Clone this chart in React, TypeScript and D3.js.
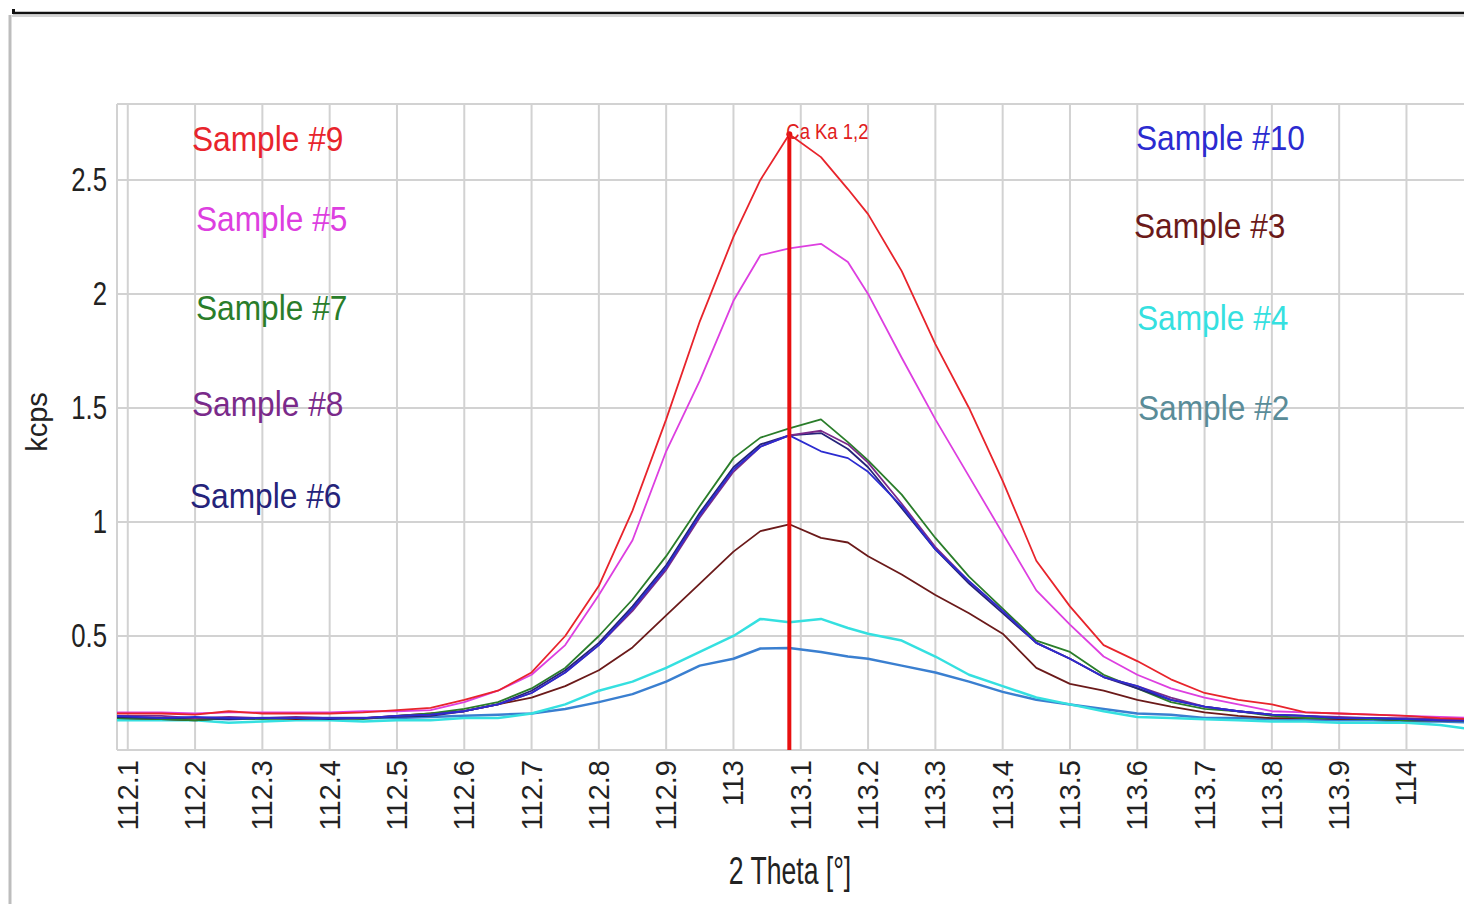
import React, { useEffect, useRef } from "react";
import * as d3 from "d3";

const W = 1464, H = 904;

// 2 Theta positions shared by all scans
const theta = [112.08, 112.15, 112.2, 112.25, 112.3, 112.35, 112.4, 112.45, 112.5, 112.55,
  112.6, 112.65, 112.7, 112.75, 112.8, 112.85, 112.9, 112.95, 113.0, 113.04,
  113.083, 113.13, 113.17, 113.2, 113.25, 113.3, 113.35, 113.4, 113.45, 113.5,
  113.55, 113.6, 113.65, 113.7, 113.75, 113.8, 113.85, 113.9, 113.95, 114.0,
  114.05, 114.1];

const sample9 = [0.16, 0.16, 0.155, 0.17, 0.16, 0.16, 0.16, 0.165, 0.175, 0.185,
  0.22, 0.26, 0.34, 0.50, 0.72, 1.05, 1.45, 1.88, 2.25, 2.50,
  2.70, 2.60, 2.46, 2.35, 2.10, 1.78, 1.50, 1.18, 0.83, 0.63,
  0.46, 0.39, 0.31, 0.25, 0.22, 0.20, 0.165, 0.16, 0.155, 0.15,
  0.14, 0.135];
const sample5 = [0.165, 0.165, 0.16, 0.165, 0.165, 0.165, 0.165, 0.17, 0.17, 0.175,
  0.21, 0.26, 0.33, 0.46, 0.68, 0.92, 1.31, 1.62, 1.97, 2.17,
  2.20, 2.22, 2.14, 2.00, 1.72, 1.45, 1.20, 0.95, 0.70, 0.55,
  0.41, 0.33, 0.27, 0.23, 0.20, 0.17, 0.165, 0.16, 0.155, 0.15,
  0.145, 0.14];
const sample7 = [0.14, 0.135, 0.13, 0.14, 0.135, 0.14, 0.14, 0.135, 0.15, 0.16,
  0.18, 0.21, 0.27, 0.36, 0.50, 0.66, 0.85, 1.07, 1.28, 1.37,
  1.41, 1.45, 1.35, 1.27, 1.12, 0.93, 0.76, 0.62, 0.48, 0.43,
  0.33, 0.27, 0.21, 0.18, 0.17, 0.15, 0.14, 0.14, 0.135, 0.13,
  0.13, 0.13];
const sample8 = [0.15, 0.15, 0.14, 0.145, 0.14, 0.145, 0.14, 0.14, 0.15, 0.155,
  0.17, 0.20, 0.25, 0.34, 0.46, 0.61, 0.79, 1.02, 1.22, 1.33,
  1.38, 1.40, 1.34, 1.26, 1.08, 0.89, 0.74, 0.61, 0.47, 0.40,
  0.32, 0.28, 0.23, 0.19, 0.17, 0.155, 0.15, 0.145, 0.14, 0.14,
  0.135, 0.13];
const sample6 = [0.145, 0.14, 0.14, 0.135, 0.14, 0.14, 0.135, 0.14, 0.145, 0.15,
  0.17, 0.20, 0.26, 0.35, 0.47, 0.63, 0.81, 1.04, 1.24, 1.34,
  1.38, 1.39, 1.32, 1.24, 1.06, 0.88, 0.73, 0.60, 0.47, 0.40,
  0.32, 0.27, 0.22, 0.19, 0.17, 0.155, 0.15, 0.14, 0.14, 0.135,
  0.13, 0.13];
const sample10 = [0.15, 0.14, 0.145, 0.14, 0.14, 0.14, 0.14, 0.14, 0.15, 0.155,
  0.17, 0.20, 0.25, 0.34, 0.46, 0.62, 0.80, 1.03, 1.23, 1.33,
  1.38, 1.31, 1.28, 1.22, 1.07, 0.88, 0.74, 0.61, 0.47, 0.40,
  0.32, 0.28, 0.22, 0.19, 0.17, 0.155, 0.15, 0.14, 0.14, 0.135,
  0.13, 0.13];
const sample3 = [0.14, 0.135, 0.13, 0.14, 0.14, 0.135, 0.14, 0.14, 0.15, 0.16,
  0.17, 0.20, 0.23, 0.28, 0.35, 0.45, 0.59, 0.73, 0.87, 0.96,
  0.99, 0.93, 0.91, 0.85, 0.77, 0.68, 0.60, 0.51, 0.36, 0.29,
  0.26, 0.22, 0.19, 0.165, 0.15, 0.14, 0.14, 0.135, 0.135, 0.13,
  0.13, 0.13];
const sample4 = [0.13, 0.13, 0.13, 0.12, 0.125, 0.13, 0.13, 0.125, 0.13, 0.13,
  0.14, 0.14, 0.16, 0.20, 0.26, 0.30, 0.36, 0.43, 0.50, 0.575,
  0.56, 0.575, 0.535, 0.51, 0.48, 0.41, 0.33, 0.28, 0.23, 0.20,
  0.17, 0.145, 0.14, 0.135, 0.13, 0.125, 0.125, 0.12, 0.12, 0.12,
  0.11, 0.09];
const sample2 = [0.14, 0.14, 0.14, 0.135, 0.14, 0.14, 0.14, 0.14, 0.14, 0.145,
  0.15, 0.155, 0.16, 0.18, 0.21, 0.245, 0.30, 0.37, 0.40, 0.445,
  0.447, 0.43, 0.41, 0.40, 0.37, 0.34, 0.30, 0.255, 0.22, 0.20,
  0.18, 0.16, 0.155, 0.14, 0.14, 0.135, 0.13, 0.13, 0.13, 0.125,
  0.125, 0.12];

// drawing order, bottom first
const series = [
  { name: "Sample #2", values: sample2, color: "#3a7fd0", width: 2.5 },
  { name: "Sample #4", values: sample4, color: "#35e0e0", width: 2.5 },
  { name: "Sample #3", values: sample3, color: "#6b1a1a", width: 1.8 },
  { name: "Sample #7", values: sample7, color: "#2a7d2a", width: 1.8 },
  { name: "Sample #6", values: sample6, color: "#25237a", width: 1.8 },
  { name: "Sample #8", values: sample8, color: "#7a2a8a", width: 1.8 },
  { name: "Sample #10", values: sample10, color: "#2b2bd0", width: 1.8 },
  { name: "Sample #5", values: sample5, color: "#dd3fe0", width: 1.8 },
  { name: "Sample #9", values: sample9, color: "#e8242c", width: 1.8 },
];

// legend labels: [text, colour, x, baseline]
const labels: [string, string, number, number][] = [
  ["Sample #9", "#e8242c", 192, 151],
  ["Sample #5", "#dd3fe0", 196, 231],
  ["Sample #7", "#2a7d2a", 196, 320],
  ["Sample #8", "#7a2a8a", 192, 416],
  ["Sample #6", "#25237a", 190, 508],
  ["Sample #10", "#2b2bd0", 1136, 150],
  ["Sample #3", "#6b1a1a", 1134, 238],
  ["Sample #4", "#35e0e0", 1137, 330],
  ["Sample #2", "#5a8c98", 1138, 420],
];

const xTicks = d3.range(1121, 1141).map(d => d / 10);
const yTicks = [0.5, 1, 1.5, 2, 2.5];
const peakPos = 113.083, peakTop = 2.70;

export default function App() {
  const ref = useRef<SVGSVGElement>(null);

  useEffect(() => {
    const svg = d3.select(ref.current);
    svg.selectAll("*").remove();

    const left = 117, top = 104, bottom = 750;
    const x = d3.scaleLinear().domain([112.084, 114.1]).range([left, left + 2.016 * 673]);
    const y = d3.scaleLinear().domain([0, 2.833]).range([bottom, top]);
    const font = "'Liberation Sans', Arial, sans-serif";

    svg.append("rect").attr("width", W).attr("height", H).attr("fill", "#fff");

    // outer frame
    svg.append("line").attr("x1", 12).attr("x2", W).attr("y1", 16).attr("y2", 16)
      .attr("stroke", "#d4d4d4").attr("stroke-width", 2);
    svg.append("line").attr("x1", 13).attr("x2", W).attr("y1", 13).attr("y2", 13)
      .attr("stroke", "#111").attr("stroke-width", 2.5);
    svg.append("rect").attr("x", 12).attr("y", 9).attr("width", 3).attr("height", 5).attr("fill", "#111");
    svg.append("line").attr("x1", 10).attr("x2", 10).attr("y1", 15).attr("y2", H)
      .attr("stroke", "#bdbdbd").attr("stroke-width", 3);

    // grid
    const grid = svg.append("g").attr("stroke", "#d2d2d2").attr("stroke-width", 2);
    grid.selectAll("line.v").data(xTicks).join("line")
      .attr("x1", d => x(d)).attr("x2", d => x(d)).attr("y1", top).attr("y2", bottom);
    grid.selectAll("line.h").data(yTicks).join("line").attr("class", "h")
      .attr("x1", left).attr("x2", W).attr("y1", d => y(d)).attr("y2", d => y(d));
    grid.append("line").attr("x1", left).attr("x2", W).attr("y1", top).attr("y2", top);
    grid.append("line").attr("x1", left).attr("x2", W).attr("y1", bottom).attr("y2", bottom);
    grid.append("line").attr("x1", left).attr("x2", left).attr("y1", top).attr("y2", bottom);

    // y tick labels
    svg.append("g").selectAll("text").data(yTicks).join("text")
      .attr("transform", d => `translate(107,${y(d) + 11}) scale(0.78,1)`)
      .attr("text-anchor", "end").attr("font-family", font).attr("font-size", 33)
      .attr("fill", "#222").text(d => String(d));

    // x tick labels
    svg.append("g").selectAll("text").data(xTicks).join("text")
      .attr("transform", d => `translate(${x(d) + 10},760) rotate(-90)`)
      .attr("text-anchor", "end").attr("font-family", font).attr("font-size", 29)
      .attr("fill", "#222").text(d => d3.format("")(d));

    svg.append("text").attr("transform", "translate(790,884) scale(0.7,1)")
      .attr("text-anchor", "middle").attr("font-family", font).attr("font-size", 38)
      .attr("fill", "#222").text("2 Theta [°]");
    svg.append("text").attr("transform", "translate(47,422) rotate(-90)")
      .attr("text-anchor", "middle").attr("font-family", font).attr("font-size", 29)
      .attr("fill", "#222").text("kcps");

    // scans
    svg.append("clipPath").attr("id", "plotClip").append("rect")
      .attr("x", left).attr("y", top).attr("width", W - left).attr("height", bottom - top);
    const line = d3.line<number>().x((_, i) => x(theta[i])).y(d => y(d));
    svg.append("g").attr("clip-path", "url(#plotClip)").attr("fill", "none")
      .selectAll("path").data(series).join("path")
      .attr("stroke", d => d.color).attr("stroke-width", d => d.width)
      .attr("stroke-linejoin", "round").attr("d", d => line(d.values));

    // Ca Ka marker
    svg.append("line").attr("x1", x(peakPos)).attr("x2", x(peakPos))
      .attr("y1", y(peakTop)).attr("y2", bottom).attr("stroke", "#e81010").attr("stroke-width", 4);
    svg.append("circle").attr("cx", x(peakPos)).attr("cy", y(peakTop)).attr("r", 3).attr("fill", "#e81010");
    svg.append("text").attr("transform", `translate(${x(peakPos) - 3},139) scale(0.84,1)`)
      .attr("font-family", font).attr("font-size", 22).attr("fill", "#e02020").text("Ca Ka 1,2");

    // labels
    svg.append("g").selectAll("text").data(labels).join("text")
      .attr("transform", d => `translate(${d[2]},${d[3]}) scale(0.88,1)`)
      .attr("font-family", font).attr("font-size", 36).attr("fill", d => d[1]).text(d => d[0]);
  }, []);

  return (
    <svg ref={ref} width={W} height={H}
      style={{ position: "absolute", left: 0, top: 0, display: "block" }} />
  );
}
